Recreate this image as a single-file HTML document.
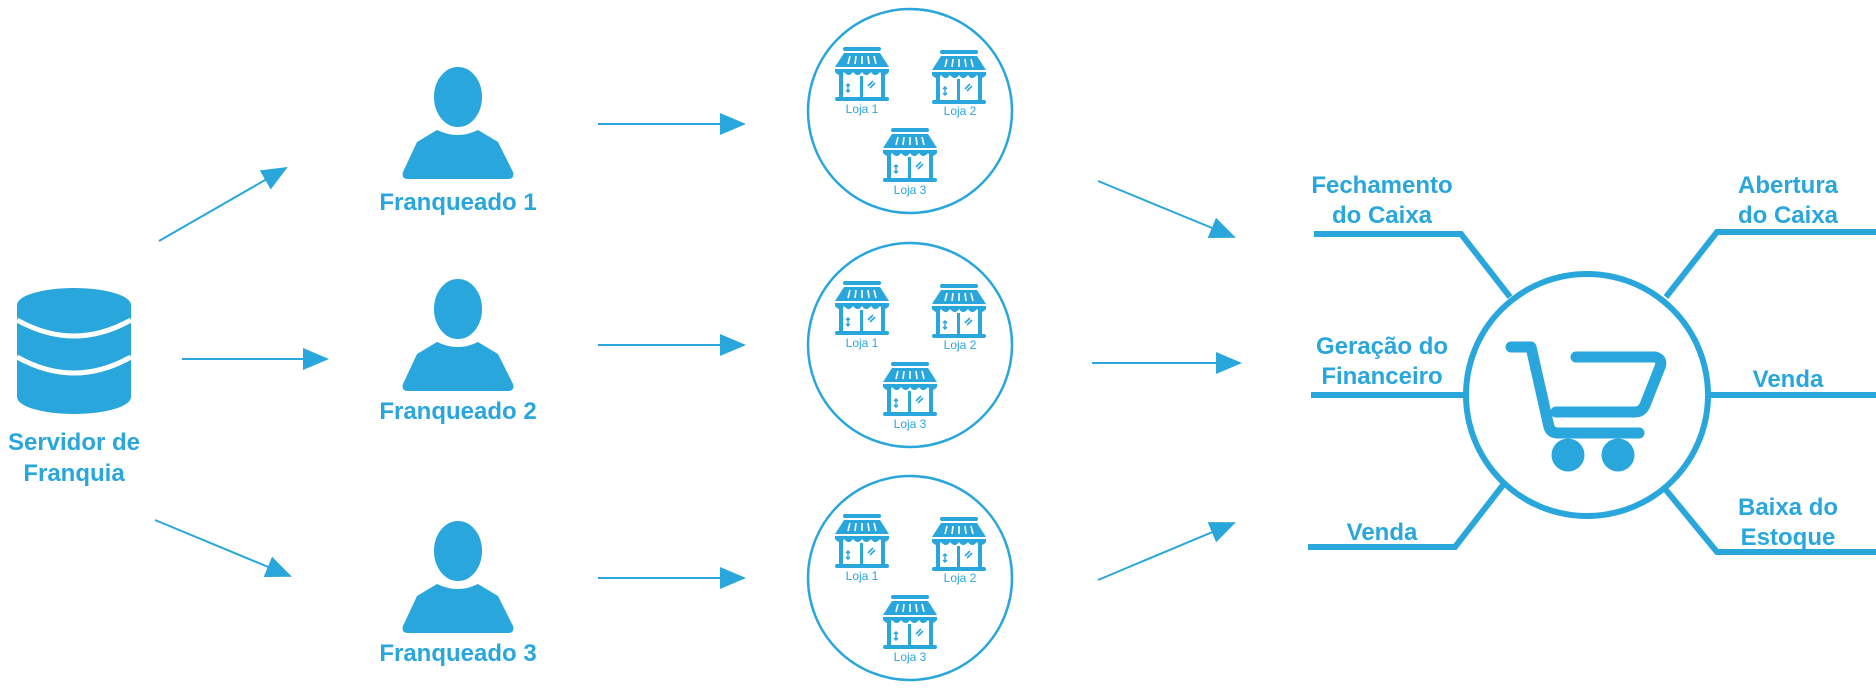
<!DOCTYPE html>
<html><head><meta charset="utf-8"><style>
html,body{margin:0;padding:0;background:#fff;}
svg{display:block;}
text{font-family:"Liberation Sans",sans-serif;font-weight:bold;fill:#29a6dc;text-anchor:middle;}
.s{font-weight:normal;font-size:12px;}
</style></head><body>
<svg width="1876" height="689" viewBox="0 0 1876 689" xmlns="http://www.w3.org/2000/svg">
<defs>
<marker id="ah" markerUnits="userSpaceOnUse" markerWidth="26" markerHeight="22" refX="24" refY="11" orient="auto">
<path d="M0 0 L26 11 L0 22 Z" fill="#29a6dc"/>
</marker>
<g id="store" fill="#29a6dc">
<rect x="8" y="0" width="38" height="4" rx="2"/>
<path d="M9 6 L45 6 L54 20 L0 20 Z"/>
<g stroke="#fff" stroke-width="1.6"><line x1="15" y1="9" x2="13" y2="17"/><line x1="21" y1="9" x2="20" y2="17"/><line x1="27" y1="9" x2="27" y2="17"/><line x1="33" y1="9" x2="34" y2="17"/><line x1="39" y1="9" x2="41" y2="17"/></g>
<path d="M0 22 L54 22 L54 25 Q49 31 45 25 Q40 31 36 25 Q31 31 27 25 Q23 31 18 25 Q14 31 9 25 Q5 31 0 25 Z"/>
<rect x="4" y="26" width="4" height="24"/><rect x="46" y="26" width="4" height="24"/>
<rect x="25" y="29" width="3" height="21"/>
<path d="M13 37 v8 M11 39 l2 -2 l2 2 M11 43 l2 2 l2 -2" stroke="#29a6dc" stroke-width="1.4" fill="none"/>
<path d="M33 39 l5 -5 M35 41 l5 -5" stroke="#29a6dc" stroke-width="1.6"/>
<rect x="0" y="50" width="54" height="4" rx="2"/>
</g>
<g id="person" fill="#29a6dc">
<path d="M437 130 Q458 140 478 130 L498 142 L513 172 Q515 179 508 179 L408 179 Q401 179 403 172 L417 142 Z"/>
<ellipse cx="458" cy="97" rx="25.5" ry="31.5" stroke="#fff" stroke-width="3"/>
</g>
<g id="stores">
<use href="#store" x="835" y="47"/><text class="s" x="862" y="113">Loja 1</text>
<use href="#store" x="932" y="50"/><text class="s" x="960" y="115">Loja 2</text>
<use href="#store" x="883" y="128"/><text class="s" x="910" y="194">Loja 3</text>
</g>
</defs>

<g fill="#29a6dc">
<rect x="17" y="305" width="114" height="92"/>
<ellipse cx="74" cy="305" rx="57" ry="17"/>
<ellipse cx="74" cy="397" rx="57" ry="17"/>
</g>
<path d="M17 320 Q74 352 131 320 M17 357 Q74 389 131 357" stroke="#fff" stroke-width="5" fill="none"/>
<text x="74" y="450" font-size="24">Servidor de</text>
<text x="74" y="481" font-size="24">Franquia</text>

<g stroke="#29a6dc" stroke-width="2" marker-end="url(#ah)" fill="none">
<line x1="159" y1="241" x2="286" y2="168"/>
<line x1="182" y1="359" x2="327" y2="359"/>
<line x1="155" y1="520" x2="290" y2="576"/>
<line x1="598" y1="124" x2="744" y2="124"/>
<line x1="598" y1="345" x2="744" y2="345"/>
<line x1="598" y1="578" x2="744" y2="578"/>
<line x1="1098" y1="181" x2="1234" y2="237"/>
<line x1="1092" y1="363" x2="1240" y2="363"/>
<line x1="1098" y1="580" x2="1234" y2="523"/>
</g>

<use href="#person"/>
<text x="458" y="210" font-size="24">Franqueado 1</text>
<use href="#person" y="212"/>
<text x="458" y="419" font-size="24">Franqueado 2</text>
<use href="#person" y="454"/>
<text x="458" y="661" font-size="24">Franqueado 3</text>

<g fill="none" stroke="#29a6dc" stroke-width="2.5">
<circle cx="910" cy="111" r="102"/>
<circle cx="910" cy="345" r="102"/>
<circle cx="910" cy="578" r="102"/>
</g>
<use href="#stores"/>
<use href="#stores" y="234"/>
<use href="#stores" y="467"/>

<g stroke="#29a6dc" stroke-width="6" fill="none">
<path d="M1314 234 L1461 234 L1510 297"/>
<path d="M1666 297 L1717 232 L1876 232"/>
<path d="M1311 395 L1464 395"/>
<path d="M1710 395 L1876 395"/>
<path d="M1308 547 L1455 547 L1503 485"/>
<path d="M1666 490 L1717 552 L1876 552"/>
<circle cx="1587" cy="395" r="121" fill="#fff"/>
</g>
<g stroke="#29a6dc" stroke-width="11" fill="none" stroke-linecap="round" stroke-linejoin="round">
<path d="M1511 347 L1531 347 L1549 427 Q1551 433 1558 433 L1639 433"/>
<path d="M1576 357 L1655 357 Q1663 359 1660 367 L1645 405 Q1642 412 1635 412 L1556 412"/>
</g>
<g fill="#29a6dc">
<circle cx="1568" cy="455" r="16.5"/>
<circle cx="1618" cy="455" r="16.5"/>
</g>

<text x="1382" y="193" font-size="24">Fechamento</text>
<text x="1382" y="223" font-size="24">do Caixa</text>
<text x="1788" y="193" font-size="24">Abertura</text>
<text x="1788" y="223" font-size="24">do Caixa</text>
<text x="1382" y="354" font-size="24">Geração do</text>
<text x="1382" y="384" font-size="24">Financeiro</text>
<text x="1788" y="387" font-size="24">Venda</text>
<text x="1382" y="540" font-size="24">Venda</text>
<text x="1788" y="515" font-size="24">Baixa do</text>
<text x="1788" y="545" font-size="24">Estoque</text>
</svg>
</body></html>
